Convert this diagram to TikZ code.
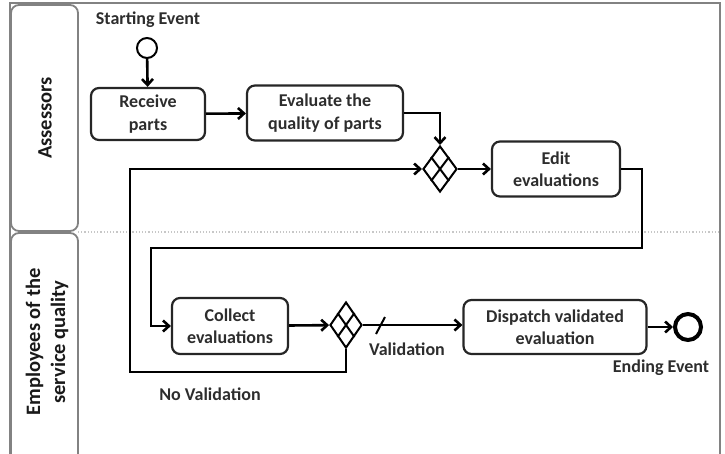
\documentclass[tikz,border=0pt]{standalone}
\usepackage{fontspec}
\setmainfont{Carlito}
\usetikzlibrary{shapes.geometric,arrows.meta,calc}
\definecolor{txt}{RGB}{45,45,45}
\definecolor{lanegray}{RGB}{130,130,130}
\tikzset{
  task/.style={draw=black!85,line width=2.2pt,rounded corners=8pt,fill=white,
    align=center,font=\fontsize{18}{22.5}\selectfont\bfseries,text=txt,inner sep=0pt},
  gw/.style={draw=black,line width=2pt,shape=diamond,minimum width=34pt,minimum height=46pt,inner sep=0pt,fill=white},
  flow/.style={draw=black,line width=2.6pt,-{Straight Barb[length=6pt,width=11pt]}},
  lbl/.style={font=\fontsize{18}{22.5}\selectfont\bfseries,text=txt,align=center,inner sep=0pt},
  lanelbl/.style={font=\fontsize{20.5}{25}\selectfont\bfseries,text=black!90,align=center,inner sep=0pt,rotate=90},
  lanebox/.style={draw=lanegray,line width=1.8pt,rounded corners=8pt},
}
\newcommand{\gwlines}[1]{%
  \draw[line width=2pt] ($(#1.north)!0.5!(#1.east)$) -- ($(#1.west)!0.5!(#1.south)$);
  \draw[line width=2pt] ($(#1.north)!0.5!(#1.west)$) -- ($(#1.south)!0.5!(#1.east)$);}
\begin{document}
\begin{tikzpicture}[x=1pt,y=-1pt]
\useasboundingbox (0,0) rectangle (725,453);
% pool frame
\draw[lanegray,line width=2pt] (10,470) -- (10,3) -- (720,3) -- (720,470);
\draw[lanegray!45,line width=1.2pt,dotted] (78,232) -- (720,232);
\draw[lanebox] (11,5) rectangle (78,231);
\draw[lanebox] (11,233) rectangle (78,475);
\node[lanelbl] (lane1) at (45,118) {Assessors};
\node[lanelbl] (lane2) at (47,342) {Employees of the\\service quality};
% events
\node[draw=black,line width=2pt,circle,minimum size=20pt,inner sep=0pt] (start) at (147,48) {};
\node[lbl] (startlbl) at (148,20) {Starting Event};
\node[draw=black,line width=4pt,circle,minimum size=26pt,inner sep=0pt] (end) at (688,327) {};
\node[lbl] (endlbl) at (661,368) {Ending Event};
% tasks
\node[task,minimum width=114pt,minimum height=52pt] (receive) at (148,114) {Receive\\parts};
\node[task,minimum width=156pt,minimum height=55pt] (evaluate) at (325,113) {Evaluate the\\quality of parts};
\node[task,minimum width=128pt,minimum height=55pt] (edit) at (556,169) {Edit\\evaluations};
\node[task,minimum width=116pt,minimum height=56pt] (collect) at (230,326) {Collect\\evaluations};
\node[task,minimum width=183pt,minimum height=54pt] (dispatch) at (555,327) {Dispatch validated\\evaluation};
% gateways
\node[gw] (gw1) at (440,169) {};
\gwlines{gw1}
\node[gw,minimum width=32pt] (gw2) at (346,325) {};
\gwlines{gw2}
% helper coordinates
\coordinate (c1) at (642,248);
\coordinate (c2) at (151,248);
\coordinate (c3) at (130,372);
\coordinate (s1) at (376,334);
\coordinate (s2) at (385,317);
% flows
\draw[flow] (start) -- (receive);
\draw[flow] (receive) -- (evaluate);
\draw[flow] (evaluate.east) -| (gw1.north);
\draw[flow] (gw1) -- (edit);
\draw[flow] (edit.east) -| (c1) -- (c2) |- (collect.west);
\draw[flow] (collect) -- (gw2);
\draw[flow] (gw2.east) -- (dispatch.west |- gw2.east);
\draw[line width=2pt] (s1) -- (s2);
\node[lbl] (vallbl) at (407,349) {Validation};
\draw[flow] (dispatch) -- (end);
\draw[flow] (gw2.south) |- (c3) |- (gw1.west);
\node[lbl] (novallbl) at (210,394) {No Validation};
\end{tikzpicture}
\end{document}
